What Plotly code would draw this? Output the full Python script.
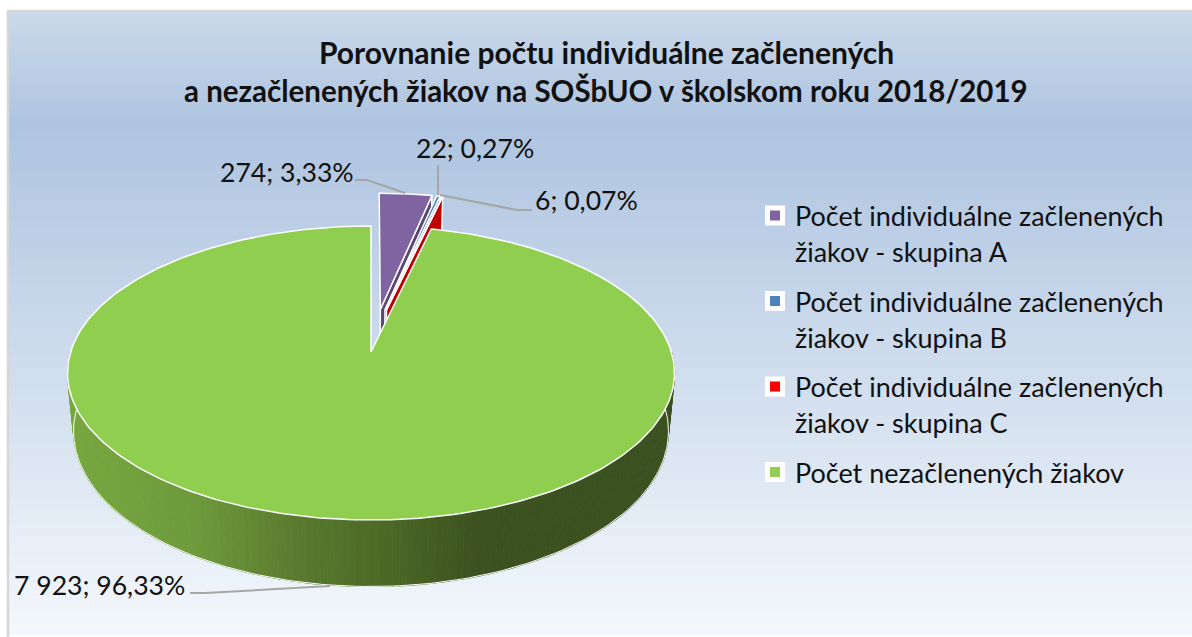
import numpy as np
import plotly.graph_objects as go

categories = ["Počet individuálne začlenených žiakov - skupina A",
              "Počet individuálne začlenených žiakov - skupina B",
              "Počet individuálne začlenených žiakov - skupina C",
              "Počet nezačlenených žiakov"]
legend_lines = [["Počet individuálne začlenených", "žiakov - skupina A"],
                ["Počet individuálne začlenených", "žiakov - skupina B"],
                ["Počet individuálne začlenených", "žiakov - skupina C"],
                ["Počet nezačlenených žiakov"]]
values = [274, 22, 6, 7923]
value_labels = ["274", "22", "6", "7 923"]
colors = ["#8064A2", "#4F81BD", "#FF0000", "#8FCE4F"]
wall_colors = ["#5A4674", "#38598A", "#C00000", "#5F8A33"]
explode = [0.31, 0.31, 0.31, 0.0]
explode_dir_deg = [6.0, 9.0, 10.0, 0.0]
title_lines = ["Porovnanie počtu individuálne začlenených",
               "a nezačlenených žiakov na SOŠbUO v školskom roku 2018/2019"]

FONT = "Lato"
W, H = 1192, 637
XC, YC, A, B, K, DEPTH, SHRINK = 371.0, 352.0, 300.4, 144.0, 1/7, 57.0, 0.98


def proj(u, v, h=0.0):
    w = 1 - K * v
    return XC + A * (1 - (1 - SHRINK) * h) * u / w, YC + (B * v + DEPTH * h) / w


def offset(i):
    d = np.radians(explode_dir_deg[i])
    return explode[i] * np.sin(d), -explode[i] * np.cos(d)


def ring(t0, t1, i, h=0.0, n=80):
    ts = np.linspace(t0, t1, n)
    ox, oy = offset(i)
    return proj(ox + np.sin(ts), oy - np.cos(ts), h)


fig = go.Figure()

# background panel (edges form: one more y than rows)
ys = np.arange(11, 639, 4)
yc = (ys[:-1] + ys[1:]) / 2
zs = np.where(yc < 125, np.interp(yc, [11, 125], [-1, 0]), np.interp(yc, [125, 637], [0, 1]))[:, None]
fig.add_trace(go.Heatmap(x=[8, 1192], y=ys, z=zs, zmin=-1, zmax=1, showscale=False,
                         hoverinfo="skip",
                         colorscale=[[0, "#CAD9EA"], [0.5, "#AEC4E0"], [1, "#F4F8FC"]]))


def poly(x, y, fill, line="white", lw=1.5, closed=True):
    fig.add_trace(go.Scatter(x=list(x), y=list(y), mode="lines", fill="toself" if closed else None,
                             fillcolor=fill if closed else None,
                             line=dict(color=line, width=lw), hoverinfo="skip", showlegend=False))


total = sum(values)
cum = np.cumsum([0] + values) / total * 2 * np.pi

# small exploded slices: right radial face + top face
for i in [0, 1, 2]:
    t0, t1 = cum[i], cum[i + 1]
    tx, ty = ring(t0, t1, i)
    bx, by = ring(t0, t1, i, 1.0)
    ox, oy = offset(i)
    ax, ay = proj(ox, oy)
    ax2, ay2 = proj(ox, oy, 1.0)
    poly([ax, tx[-1], bx[-1], ax2, ax], [ay, ty[-1], by[-1], ay2, ay], wall_colors[i])
    poly([ax, *tx, ax], [ay, *ty, ay], colors[i])

# big slice: outer wall in shaded strips, then top face
t0, t1 = cum[3], cum[4]
ts = np.linspace(np.pi / 2, 3 * np.pi / 2, 151)
ux, uy = proj(np.sin(ts), -np.cos(ts))
lx, ly = proj(np.sin(ts), -np.cos(ts), 1.0)
shade_x = [70, 200, 300, 390, 480, 672]
shade_c = [[120, 168, 64], [110, 154, 60], [90, 122, 47], [76, 104, 38], [60, 81, 32], [59, 81, 32]]
for j in range(len(ts) - 1):
    xm = (lx[j] + lx[j + 1]) / 2
    c = [int(np.interp(xm, shade_x, [s[k] for s in shade_c])) for k in range(3)]
    col = f"rgb({c[0]},{c[1]},{c[2]})"
    poly([ux[j], ux[j + 1], lx[j + 1], lx[j]], [uy[j], uy[j + 1], ly[j + 1], ly[j]], col, col, 1.2)
poly(lx, ly, None, "white", 1.0, closed=False)
tx, ty = ring(t0, t1, 3, n=300)
poly([XC, *tx, XC], [YC, *ty, YC], colors[3])

# leader lines
leaders = [([355, 367, 405], [180, 180, 193]),
           ([438, 438], [165, 195]),
           ([440, 517, 532], [195, 210, 210]),
           ([190, 205, 330], [593, 593, 586])]
for lx_, ly_ in leaders:
    fig.add_trace(go.Scatter(x=lx_, y=ly_, mode="lines", line=dict(color="#A6A6A6", width=2),
                             hoverinfo="skip", showlegend=False))

# legend keys
for i, name in enumerate(categories):
    label = "<br>".join(f'<span style="font-size:27px">{s}</span>' for s in legend_lines[i])
    fig.add_trace(go.Scatter(x=[None], y=[None], mode="markers", name=label, legendgroup=str(i),
                             marker=dict(symbol="square", size=15, color=colors[i],
                                         line=dict(color="white", width=5))))

# data labels
pct = [f"{v / total * 100:.2f}".replace(".", ",") + "%" for v in values]
positions = [(356, 172, "right"), (475, 148, "center"), (533, 200, "left"), (187, 585, "right")]
ann = []
for i, (px, py, al) in enumerate(positions):
    ann.append(dict(x=px, y=py, xref="x", yref="y", text=f"{value_labels[i]}; {pct[i]}", showarrow=False,
                    xanchor=al, yanchor="middle", font=dict(family=FONT, size=26.6, color="#111111")))
for ty_, s, sz in zip([52, 90], title_lines, [30, 29.5]):
    ann.append(dict(x=606, y=ty_, xref="x", yref="y", text=f"<b>{s}</b>", showarrow=False, xanchor="center",
                    yanchor="middle", font=dict(family=FONT, size=sz, color="#111111")))

fig.update_layout(
    width=W, height=H, margin=dict(l=0, r=0, t=0, b=0), paper_bgcolor="white", plot_bgcolor="white",
    xaxis=dict(range=[0, W], visible=False, fixedrange=True),
    yaxis=dict(range=[H, 0], visible=False, fixedrange=True),
    annotations=ann, font=dict(family=FONT, color="#111111"),
    legend=dict(x=755 / W, y=1 - 191 / H, xanchor="left", yanchor="top", bgcolor="rgba(0,0,0,0)",
                font=dict(family=FONT, size=27.7, color="#111111"), tracegroupgap=10.5,
                valign="top", itemclick=False, itemdoubleclick=False),
    shapes=[dict(type="line", x0=8, x1=8, y0=10, y1=637, xref="x", yref="y",
                 line=dict(color="#D6D6D6", width=2.5), layer="above"),
            dict(type="line", x0=7, x1=1192, y0=11, y1=11, xref="x", yref="y",
                 line=dict(color="#D6D6D6", width=2.5), layer="above")],
)
fig.write_html("out.html", config={"displayModeBar": False}, post_script="document.body.style.margin='0';")
